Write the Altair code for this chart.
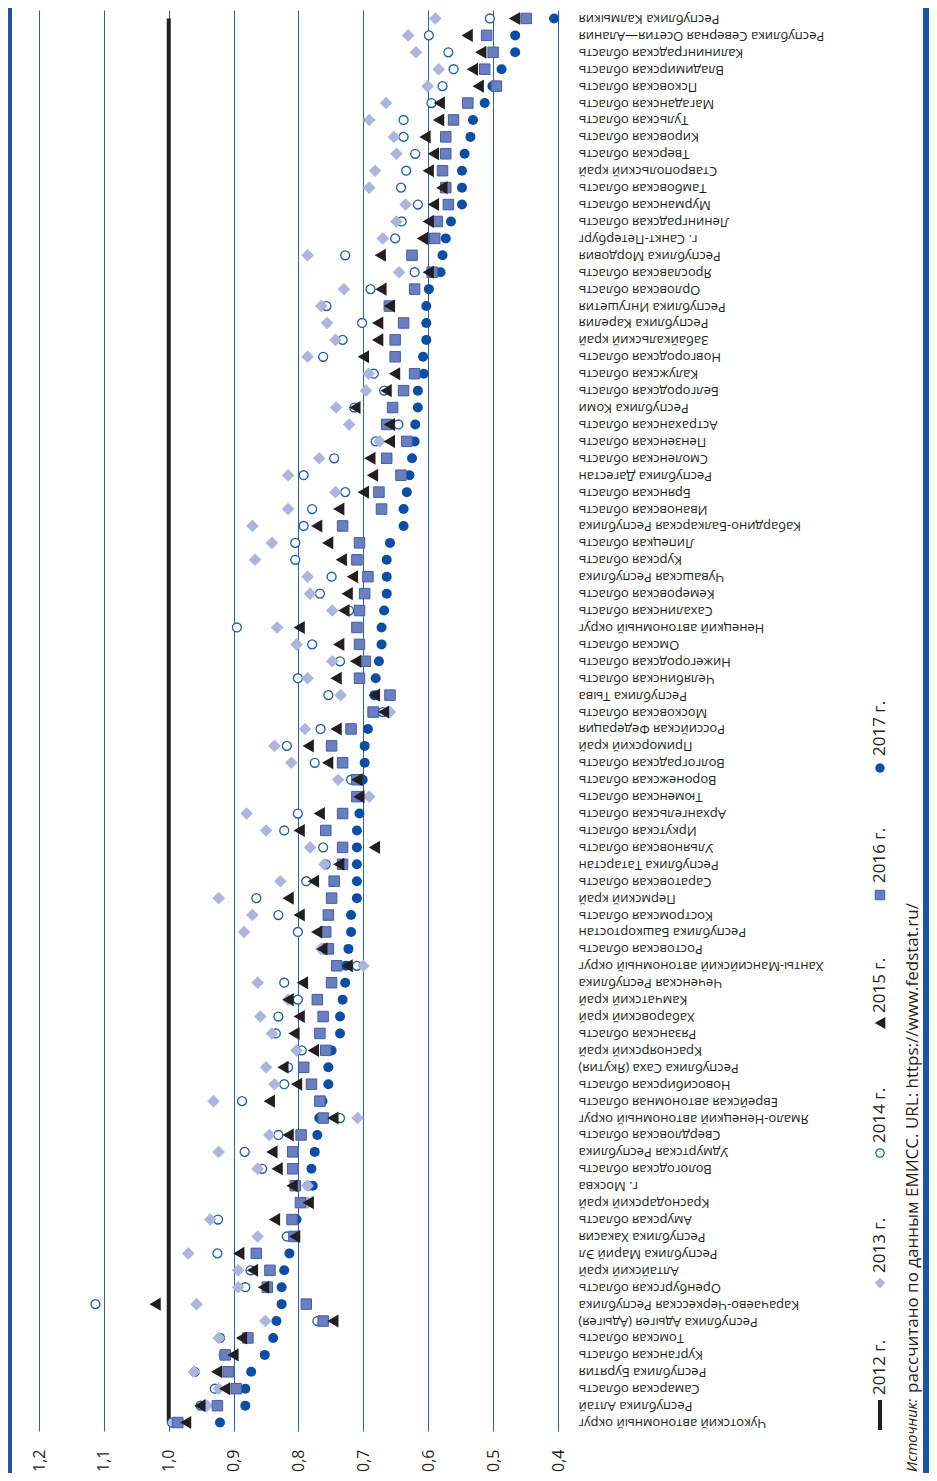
import altair as alt
import pandas as pd

regions = [
    "Республика Калмыкия", "Республика Северная Осетия—Алания", "Калининградская область",
    "Владимирская область", "Псковская область", "Магаданская область", "Тульская область",
    "Кировская область", "Тверская область", "Ставропольский край", "Тамбовская область",
    "Мурманская область", "Ленинградская область", "г. Санкт-Петербург", "Республика Мордовия",
    "Ярославская область", "Орловская область", "Республика Ингушетия", "Республика Карелия",
    "Забайкальский край", "Новгородская область", "Калужская область", "Белгородская область",
    "Республика Коми", "Астраханская область", "Пензенская область", "Смоленская область",
    "Республика Дагестан", "Брянская область", "Ивановская область",
    "Кабардино-Балкарская Республика", "Липецкая область", "Курская область",
    "Чувашская Республика", "Кемеровская область", "Сахалинская область",
    "Ненецкий автономный округ", "Омская область", "Нижегородская область",
    "Челябинская область", "Республика Тыва", "Московская область", "Российская Федерация",
    "Приморский край", "Волгоградская область", "Воронежская область", "Тюменская область",
    "Архангельская область", "Иркутская область", "Ульяновская область",
    "Республика Татарстан", "Саратовская область", "Пермский край", "Костромская область",
    "Республика Башкортостан", "Ростовская область", "Ханты-Мансийский автономный округ",
    "Чеченская Республика", "Камчатский край", "Хабаровский край", "Рязанская область",
    "Красноярский край", "Республика Саха (Якутия)", "Новосибирская область",
    "Еврейская автономная область", "Ямало-Ненецкий автономный округ", "Свердловская область",
    "Удмуртская Республика", "Вологодская область", "г. Москва", "Краснодарский край",
    "Амурская область", "Республика Хакасия", "Республика Марий Эл", "Алтайский край",
    "Оренбургская область", "Карачаево-Черкесская Республика", "Республика Адыгея (Адыгея)",
    "Томская область", "Курганская область", "Республика Бурятия", "Самарская область",
    "Республика Алтай", "Чукотский автономный округ",
]

v2012 = [
    1.0, 1.0, 1.0, 1.0, 1.0, 1.0, 1.0, 1.0, 1.0, 1.0, 1.0, 1.0, 1.0, 1.0,
    1.0, 1.0, 1.0, 1.0, 1.0, 1.0, 1.0, 1.0, 1.0, 1.0, 1.0, 1.0, 1.0, 1.0,
    1.0, 1.0, 1.0, 1.0, 1.0, 1.0, 1.0, 1.0, 1.0, 1.0, 1.0, 1.0, 1.0, 1.0,
    1.0, 1.0, 1.0, 1.0, 1.0, 1.0, 1.0, 1.0, 1.0, 1.0, 1.0, 1.0, 1.0, 1.0,
    1.0, 1.0, 1.0, 1.0, 1.0, 1.0, 1.0, 1.0, 1.0, 1.0, 1.0, 1.0, 1.0, 1.0,
    1.0, 1.0, 1.0, 1.0, 1.0, 1.0, 1.0, 1.0, 1.0, 1.0, 1.0, 1.0, 1.0, 1.0,
]

v2013 = [
    0.589, 0.631, 0.619, 0.584, 0.601, 0.665, 0.691, 0.653, 0.649, 0.682, 0.691, 0.635, 0.649, 0.670,
    0.786, 0.645, 0.730, 0.765, 0.756, 0.743, 0.786, 0.692, 0.696, 0.742, 0.722, 0.675, 0.768, 0.816,
    0.743, 0.816, 0.871, 0.841, 0.867, 0.786, 0.782, 0.748, 0.833, 0.803, 0.748, 0.786, 0.735, 0.659,
    0.790, 0.837, 0.811, 0.739, 0.691, 0.880, 0.850, 0.782, 0.760, 0.828, 0.923, 0.871, 0.884, 0.765,
    0.700, 0.863, 0.816, 0.859, 0.841, 0.803, 0.850, 0.837, 0.931, 0.709, 0.845, 0.923, 0.863, 0.786,
    0.786, 0.936, 0.863, 0.970, 0.893, 0.893, 0.957, 0.851, 0.923, 0.915, 0.961, 0.923, 0.941, 0.992,
]

v2014 = [
    0.505, 0.599, 0.569, 0.561, 0.578, 0.595, 0.638, 0.638, 0.620, 0.634, 0.642, 0.616, 0.641, 0.651,
    0.728, 0.621, 0.689, 0.757, 0.702, 0.732, 0.762, 0.684, 0.668, 0.714, 0.646, 0.681, 0.745, 0.792,
    0.728, 0.779, 0.792, 0.805, 0.805, 0.749, 0.767, 0.722, 0.895, 0.779, 0.736, 0.801, 0.754, 0.670,
    0.766, 0.818, 0.775, 0.719, 0.705, 0.801, 0.822, 0.762, 0.758, 0.788, 0.865, 0.831, 0.801, 0.763,
    0.710, 0.822, 0.801, 0.831, 0.835, 0.795, 0.816, 0.822, 0.887, 0.736, 0.831, 0.883, 0.856, 0.785,
    0.790, 0.924, 0.818, 0.925, 0.874, 0.882, 1.113, 0.771, 0.921, 0.915, 0.960, 0.929, 0.951, 0.995,
]

v2015 = [
    0.467, 0.540, 0.519, 0.532, 0.523, 0.583, 0.584, 0.605, 0.592, 0.600, 0.579, 0.592, 0.600, 0.609,
    0.674, 0.600, 0.673, 0.660, 0.678, 0.678, 0.700, 0.652, 0.665, 0.713, 0.660, 0.660, 0.690, 0.686,
    0.700, 0.738, 0.772, 0.755, 0.734, 0.717, 0.725, 0.730, 0.799, 0.738, 0.712, 0.742, 0.683, 0.669,
    0.742, 0.785, 0.755, 0.710, 0.707, 0.768, 0.799, 0.683, 0.738, 0.777, 0.816, 0.799, 0.772, 0.764,
    0.725, 0.794, 0.816, 0.799, 0.807, 0.777, 0.824, 0.803, 0.845, 0.747, 0.816, 0.841, 0.833, 0.810,
    0.785, 0.837, 0.806, 0.892, 0.871, 0.854, 1.021, 0.747, 0.888, 0.901, 0.926, 0.914, 0.952, 0.974,
]

v2016 = [
    0.449, 0.510, 0.500, 0.513, 0.495, 0.539, 0.561, 0.573, 0.573, 0.578, 0.573, 0.569, 0.586, 0.590,
    0.625, 0.594, 0.621, 0.660, 0.638, 0.651, 0.651, 0.621, 0.638, 0.655, 0.664, 0.633, 0.664, 0.642,
    0.676, 0.672, 0.732, 0.706, 0.710, 0.693, 0.698, 0.706, 0.710, 0.706, 0.697, 0.706, 0.659, 0.685,
    0.719, 0.749, 0.732, 0.710, 0.710, 0.732, 0.758, 0.732, 0.732, 0.745, 0.749, 0.754, 0.758, 0.754,
    0.741, 0.749, 0.771, 0.762, 0.767, 0.758, 0.792, 0.780, 0.767, 0.762, 0.796, 0.809, 0.809, 0.805,
    0.797, 0.810, 0.807, 0.865, 0.844, 0.848, 0.788, 0.762, 0.878, 0.913, 0.908, 0.896, 0.925, 0.986,
]

v2017 = [
    0.406, 0.466, 0.466, 0.487, 0.501, 0.513, 0.531, 0.535, 0.544, 0.548, 0.548, 0.548, 0.565, 0.573,
    0.578, 0.581, 0.599, 0.603, 0.603, 0.603, 0.608, 0.607, 0.616, 0.616, 0.620, 0.621, 0.625, 0.629,
    0.633, 0.638, 0.638, 0.659, 0.664, 0.664, 0.664, 0.668, 0.672, 0.672, 0.676, 0.681, 0.683, 0.680,
    0.693, 0.698, 0.698, 0.701, 0.708, 0.706, 0.710, 0.710, 0.710, 0.710, 0.710, 0.719, 0.719, 0.723,
    0.727, 0.728, 0.732, 0.736, 0.736, 0.749, 0.754, 0.754, 0.763, 0.768, 0.771, 0.775, 0.780, 0.778,
    0.792, 0.803, 0.805, 0.814, 0.822, 0.826, 0.826, 0.834, 0.839, 0.852, 0.873, 0.882, 0.882, 0.921,
]

year_labels = ["2012 г.", "2013 г.", "2014 г.", "2015 г.", "2016 г.", "2017 г."]
axis_values = [0.4, 0.5, 0.6, 0.7, 0.8, 0.9, 1.0, 1.1, 1.2]
source_italic = "Источник:"
source_rest = "рассчитано по данным ЕМИСС. URL: https://www.fedstat.ru/"

FONT = "Open Sans"
INK = "#231f20"
BLUE = "#1a55a8"


def frame(values):
    return pd.DataFrame({"region": regions, "value": values})


x_enc = alt.X(
    "value:Q",
    scale=alt.Scale(domain=[0.4, 1.2], reverse=True, nice=False, zero=False),
    axis=alt.Axis(
        values=axis_values, grid=True, gridColor="#2a62b2", gridWidth=1,
        domain=False, ticks=False, labelAngle=270, labelAlign="right",
        labelBaseline="middle", labelPadding=18, labelFontSize=16, labelFont=FONT,
        labelColor=INK, labelFlush=False, labelOverlap=False,
        labelExpr="replace(format(datum.value, '.1f'), '.', ',')", title=None,
    ),
)
y_enc = alt.Y(
    "region:N", sort=regions,
    scale=alt.Scale(type="point", padding=0.5),
    axis=alt.Axis(
        orient="right", labelAngle=180, labelAlign="right", labelBaseline="middle",
        labelPadding=20, labelFontSize=13, labelFont=FONT, labelColor=INK,
        labelLimit=0, labelOverlap=False, ticks=False, domain=False, grid=False, title=None,
    ),
)

line2012 = alt.Chart(frame(v2012)).mark_line(color=INK, strokeWidth=4).encode(
    x=x_enc, y=y_enc, order=alt.Order("region:N", sort="ascending")
)
dot2017 = alt.Chart(frame(v2017)).mark_point(
    shape="circle", filled=True, color="#0c4ea3", opacity=1, size=100
).encode(x=x_enc, y=y_enc)
open2014 = alt.Chart(frame(v2014)).mark_point(
    shape="circle", filled=True, fill="#ffffff", stroke="#1d5cb2", strokeWidth=1.3,
    opacity=1, size=80
).encode(x=x_enc, y=y_enc)
dia2013 = alt.Chart(frame(v2013)).mark_point(
    shape="diamond", filled=True, color="#aeb5dc", opacity=1, size=160
).encode(x=x_enc, y=y_enc)
sq2016 = alt.Chart(frame(v2016)).mark_point(
    shape="square", filled=True, fill="#6d7ec0", stroke="#3f5fab", strokeWidth=1,
    opacity=1, size=110
).encode(x=x_enc, y=y_enc)
tri2015 = alt.Chart(frame(v2015)).mark_point(
    shape="triangle-left", filled=True, color=INK, opacity=1, size=170
).encode(x=x_enc, y=y_enc)

layers = [line2012, dot2017, open2014, dia2013, sq2016, tri2015]

# page border bars
one = pd.DataFrame({"k": [0]})
for bx in [-30, 887]:
    layers.append(
        alt.Chart(one).mark_rule(color=BLUE, strokeWidth=6).encode(
            x=alt.value(bx), y=alt.value(-12), y2=alt.value(1475)
        )
    )

# legend (rotated)
LX = 841
legend_sym_y = [1405, 1273, 1143, 1013, 885, 758]
legend_txt_y = [1385, 1263, 1133, 1003, 873, 746]
layers.append(
    alt.Chart(one).mark_rule(color=INK, strokeWidth=4).encode(
        x=alt.value(LX), y=alt.value(1390), y2=alt.value(1420)
    )
)
sym_specs = [
    None,
    dict(shape="diamond", filled=True, color="#aeb5dc", size=110),
    dict(shape="circle", filled=True, fill="#ffffff", stroke="#1d5cb2", strokeWidth=1.3, size=70),
    dict(shape="triangle-left", filled=True, color=INK, size=150),
    dict(shape="square", filled=True, fill="#6d7ec0", stroke="#3f5fab", strokeWidth=1, size=90),
    dict(shape="circle", filled=True, color="#0c4ea3", size=90),
]
for i, lab in enumerate(year_labels):
    if sym_specs[i] is not None:
        layers.append(
            alt.Chart(one).mark_point(opacity=1, **sym_specs[i]).encode(
                x=alt.value(LX), y=alt.value(legend_sym_y[i])
            )
        )
    layers.append(
        alt.Chart(pd.DataFrame({"t": [lab]})).mark_text(
            angle=270, align="left", baseline="middle", font=FONT, fontSize=17, color=INK
        ).encode(text="t:N", x=alt.value(LX), y=alt.value(legend_txt_y[i]))
    )

# source note
SX = 874
layers.append(
    alt.Chart(pd.DataFrame({"t": [source_italic]})).mark_text(
        angle=270, align="left", baseline="middle", font=FONT, fontSize=14.5,
        fontStyle="italic", color=INK
    ).encode(text="t:N", x=alt.value(SX), y=alt.value(1462))
)
layers.append(
    alt.Chart(pd.DataFrame({"t": [source_rest]})).mark_text(
        angle=270, align="left", baseline="middle", font=FONT, fontSize=17, color=INK
    ).encode(text="t:N", x=alt.value(SX), y=alt.value(1383))
)

chart = alt.layer(*layers).properties(
    width=519, height=1421,
    padding={"left": 31, "top": 2, "right": 371, "bottom": 42},
    autosize=alt.AutoSizeParams(type="none"),
).configure_view(stroke=None)

chart.save("out.html", embed_options={"renderer": "svg", "actions": False})
